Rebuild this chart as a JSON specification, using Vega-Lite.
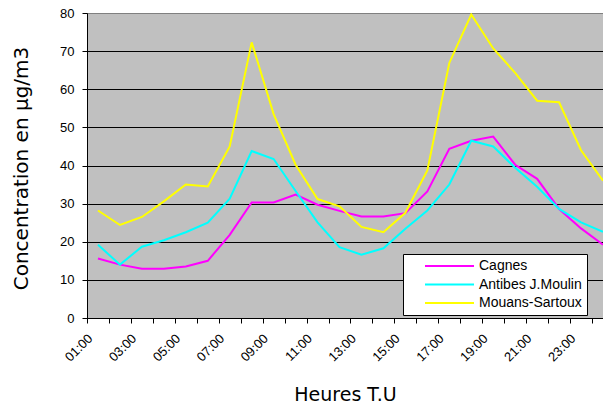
{
  "$schema": "https://vega.github.io/schema/vega-lite/v6.json",
  "width": 516,
  "height": 305,
  "autosize": {"type": "none"},
  "padding": {"left": 87, "top": 13, "right": 0, "bottom": 85},
  "background": "white",
  "config": {"view": {"fill": "#C0C0C0", "stroke": "#808080", "strokeWidth": 1}},
  "data": {"values": [
    {"h": 1, "s": "Cagnes", "v": 15.6}, {"h": 2, "s": "Cagnes", "v": 14.0}, {"h": 3, "s": "Cagnes", "v": 12.9}, {"h": 4, "s": "Cagnes", "v": 12.9},
    {"h": 5, "s": "Cagnes", "v": 13.5}, {"h": 6, "s": "Cagnes", "v": 15.0}, {"h": 7, "s": "Cagnes", "v": 21.8}, {"h": 8, "s": "Cagnes", "v": 30.3},
    {"h": 9, "s": "Cagnes", "v": 30.3}, {"h": 10, "s": "Cagnes", "v": 32.4}, {"h": 11, "s": "Cagnes", "v": 29.7}, {"h": 12, "s": "Cagnes", "v": 28.1},
    {"h": 13, "s": "Cagnes", "v": 26.6}, {"h": 14, "s": "Cagnes", "v": 26.6}, {"h": 15, "s": "Cagnes", "v": 27.5}, {"h": 16, "s": "Cagnes", "v": 33.2},
    {"h": 17, "s": "Cagnes", "v": 44.4}, {"h": 18, "s": "Cagnes", "v": 46.5}, {"h": 19, "s": "Cagnes", "v": 47.6}, {"h": 20, "s": "Cagnes", "v": 40.2},
    {"h": 21, "s": "Cagnes", "v": 36.5}, {"h": 22, "s": "Cagnes", "v": 28.6}, {"h": 23, "s": "Cagnes", "v": 23.5}, {"h": 24, "s": "Cagnes", "v": 19.2},
    {"h": 1, "s": "Antibes J.Moulin", "v": 19.2}, {"h": 2, "s": "Antibes J.Moulin", "v": 14.0}, {"h": 3, "s": "Antibes J.Moulin", "v": 18.7}, {"h": 4, "s": "Antibes J.Moulin", "v": 20.4},
    {"h": 5, "s": "Antibes J.Moulin", "v": 22.5}, {"h": 6, "s": "Antibes J.Moulin", "v": 25.0}, {"h": 7, "s": "Antibes J.Moulin", "v": 31.3}, {"h": 8, "s": "Antibes J.Moulin", "v": 43.8},
    {"h": 9, "s": "Antibes J.Moulin", "v": 41.7}, {"h": 10, "s": "Antibes J.Moulin", "v": 33.3}, {"h": 11, "s": "Antibes J.Moulin", "v": 25.1}, {"h": 12, "s": "Antibes J.Moulin", "v": 18.6},
    {"h": 13, "s": "Antibes J.Moulin", "v": 16.6}, {"h": 14, "s": "Antibes J.Moulin", "v": 18.3}, {"h": 15, "s": "Antibes J.Moulin", "v": 23.4}, {"h": 16, "s": "Antibes J.Moulin", "v": 28.2},
    {"h": 17, "s": "Antibes J.Moulin", "v": 35.0}, {"h": 18, "s": "Antibes J.Moulin", "v": 46.5}, {"h": 19, "s": "Antibes J.Moulin", "v": 45.0}, {"h": 20, "s": "Antibes J.Moulin", "v": 39.4},
    {"h": 21, "s": "Antibes J.Moulin", "v": 34.4}, {"h": 22, "s": "Antibes J.Moulin", "v": 28.6}, {"h": 23, "s": "Antibes J.Moulin", "v": 25.1}, {"h": 24, "s": "Antibes J.Moulin", "v": 22.6},
    {"h": 1, "s": "Mouans-Sartoux", "v": 28.2}, {"h": 2, "s": "Mouans-Sartoux", "v": 24.4}, {"h": 3, "s": "Mouans-Sartoux", "v": 26.5}, {"h": 4, "s": "Mouans-Sartoux", "v": 30.6},
    {"h": 5, "s": "Mouans-Sartoux", "v": 35.0}, {"h": 6, "s": "Mouans-Sartoux", "v": 34.5}, {"h": 7, "s": "Mouans-Sartoux", "v": 45.0}, {"h": 8, "s": "Mouans-Sartoux", "v": 72.3},
    {"h": 9, "s": "Mouans-Sartoux", "v": 53.5}, {"h": 10, "s": "Mouans-Sartoux", "v": 40.2}, {"h": 11, "s": "Mouans-Sartoux", "v": 31.2}, {"h": 12, "s": "Mouans-Sartoux", "v": 29.3},
    {"h": 13, "s": "Mouans-Sartoux", "v": 23.9}, {"h": 14, "s": "Mouans-Sartoux", "v": 22.5}, {"h": 15, "s": "Mouans-Sartoux", "v": 27.6}, {"h": 16, "s": "Mouans-Sartoux", "v": 38.7},
    {"h": 17, "s": "Mouans-Sartoux", "v": 66.9}, {"h": 18, "s": "Mouans-Sartoux", "v": 79.6}, {"h": 19, "s": "Mouans-Sartoux", "v": 70.7}, {"h": 20, "s": "Mouans-Sartoux", "v": 64.3},
    {"h": 21, "s": "Mouans-Sartoux", "v": 57.0}, {"h": 22, "s": "Mouans-Sartoux", "v": 56.6}, {"h": 23, "s": "Mouans-Sartoux", "v": 44.0}, {"h": 24, "s": "Mouans-Sartoux", "v": 36.0}
  ]},
  "mark": {"type": "line", "strokeWidth": 2, "clip": true},
  "encoding": {
    "x": {
      "field": "h", "type": "quantitative",
      "scale": {"domain": [0.5, 24], "nice": false, "zero": false},
      "axis": {
        "title": "Heures T.U",
        "values": [0.5, 1.5, 2.5, 3.5, 4.5, 5.5, 6.5, 7.5, 8.5, 9.5, 10.5, 11.5, 12.5, 13.5, 14.5, 15.5, 16.5, 17.5, 18.5, 19.5, 20.5, 21.5, 22.5, 23.5],
        "labelExpr": "(datum.value - 0.5) % 2 == 0 ? ((datum.value + 0.5 < 10 ? '0' : '') + (datum.value + 0.5) + ':00') : ''",
        "grid": false,
        "labelAngle": -45, "labelAlign": "right", "labelBaseline": "middle",
        "labelOffset": 3, "labelPadding": 13, "labelFlush": false, "labelOverlap": false,
        "labelFont": "Liberation Sans", "labelFontSize": 13, "labelColor": "black",
        "tickSize": 5, "tickColor": "black", "domainColor": "black",
        "titleFont": "DejaVu Sans", "titleFontSize": 19, "titleFontWeight": "normal", "titleColor": "black",
        "titleY": 82, "titleBaseline": "alphabetic"
      }
    },
    "y": {
      "field": "v", "type": "quantitative",
      "scale": {"domain": [0, 80], "nice": false},
      "axis": {
        "title": "Concentration en µg/m3",
        "values": [0, 10, 20, 30, 40, 50, 60, 70, 80],
        "grid": true,
        "gridColor": {"condition": {"test": "datum.value == 80", "value": "#808080"}, "value": "black"},
        "gridWidth": 1,
        "tickSize": 5, "tickColor": "black", "domainColor": "black",
        "labelPadding": 8, "labelFont": "Liberation Sans", "labelFontSize": 13, "labelColor": "black",
        "titleFont": "DejaVu Sans", "titleFontSize": 20, "titleFontWeight": "normal", "titleColor": "black",
        "titleAngle": 270, "titleAlign": "center", "titleBaseline": "middle",
        "titleX": -66, "titleY": 155
      }
    },
    "color": {
      "field": "s", "type": "nominal",
      "scale": {"domain": ["Cagnes", "Antibes J.Moulin", "Mouans-Sartoux"], "range": ["#FF00FF", "#00FFFF", "#FFFF00"]},
      "legend": {
        "orient": "none", "legendX": 316, "legendY": 241, "title": null,
        "symbolType": "M2,0H11.8", "symbolSize": 100, "symbolStrokeWidth": 2,
        "fillColor": "white", "strokeColor": "black", "padding": 5,
        "labelFont": "Liberation Sans", "labelFontSize": 14, "labelColor": "black",
        "rowPadding": 4.5, "labelOffset": 57
      }
    }
  }
}
